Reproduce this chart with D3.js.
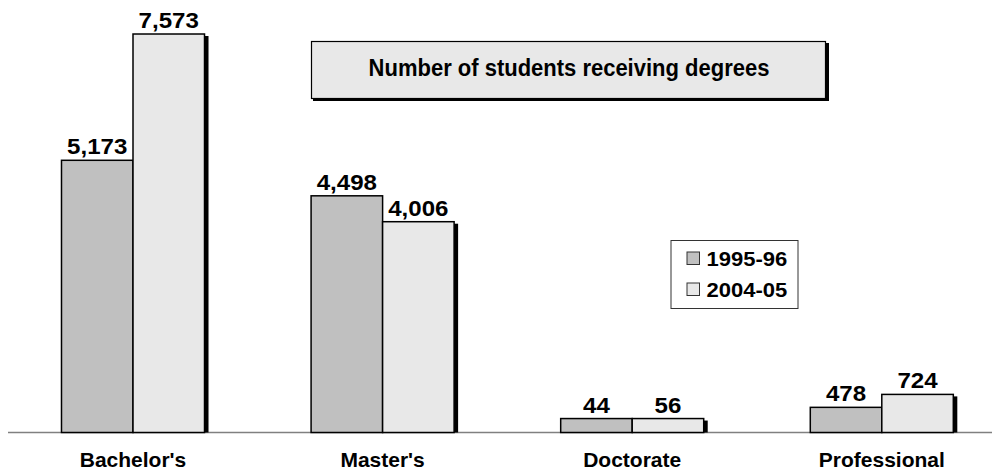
<!DOCTYPE html>
<html>
<head>
<meta charset="utf-8">
<script src="https://cdn.jsdelivr.net/npm/d3@7"></script>
<style>
  html, body { margin: 0; padding: 0; background: #fff; }
  svg { display: block; }
  text { font-family: "Liberation Sans", Arial, sans-serif; font-weight: bold; fill: #000; }
</style>
</head>
<body>
<svg id="chart" width="992" height="472"></svg>
<script>
// ---- data ----
const categories = ["Bachelor's", "Master's", "Doctorate", "Professional"];
const seriesNames = ["1995-96", "2004-05"];
const values1995 = [5173, 4498, 44, 478];
const values2004 = [7573, 4006, 56, 724];
const seriesColors = ["#c0c0c0", "#e8e8e8"];
const titleText = "Number of students receiving degrees";
// very small bars are drawn with a minimum visible height (as in the original)
const minDisplayValue = 265;

const W = 992, H = 472;
const svg = d3.select("#chart");

const baseY = 432.5;
const y = d3.scaleLinear().domain([0, 8000]).range([baseY, baseY - 8000 * 0.05262]);
const x = d3.scaleBand().domain(categories).range([8.2, 1006.6]).padding(0);
const bw = x.bandwidth();
const xs = d3.scaleBand().domain(seriesNames).range([bw * 0.2135, bw * 0.7865]).padding(0);

const rows = categories.map((c, i) => ({ cat: c, vals: [values1995[i], values2004[i]] }));

// axis line
svg.append("line")
  .attr("x1", 8).attr("x2", W)
  .attr("y1", baseY).attr("y2", baseY)
  .attr("stroke", "#808080").attr("stroke-width", 1.6);

const fmt = d3.format(",");

function scaledText(sel, sx, sy) {
  sel.each(function () {
    const t = d3.select(this);
    const tx = +t.attr("x"), ty = +t.attr("y");
    t.attr("transform", `translate(${tx},${ty}) scale(${sx},${sy || 1}) translate(${-tx},${-ty})`);
  });
}

// bars
const g = svg.append("g");
rows.forEach(r => {
  r.vals.forEach((v, si) => {
    const dv = Math.max(v, minDisplayValue);
    const x0 = x(r.cat) + xs(seriesNames[si]);
    const w = xs.bandwidth();
    const yt = y(dv);
    if (si === 1) {
      g.append("rect")
        .attr("x", x0 + w - 1).attr("y", yt + 2)
        .attr("width", 5).attr("height", baseY - yt - 2)
        .attr("fill", "#000");
    }
    g.append("rect")
      .attr("x", x0).attr("y", yt)
      .attr("width", w).attr("height", baseY - yt)
      .attr("fill", seriesColors[si])
      .attr("stroke", "#000").attr("stroke-width", 1.5);
    const t = g.append("text")
      .attr("x", x0 + w / 2).attr("y", yt - 6)
      .attr("text-anchor", "middle")
      .attr("font-size", 21.5)
      .text(fmt(v));
    scaledText(t, 1.12, 1.03);
  });
});

// category labels
const cl = svg.append("g").selectAll("text").data(categories).join("text")
  .attr("x", d => x(d) + bw / 2).attr("y", 467.5)
  .attr("text-anchor", "middle")
  .attr("font-size", 20)
  .text(d => d);
scaledText(cl, 1.05, 1.02);

// title box
const tb = svg.append("g");
tb.append("rect").attr("x", 313).attr("y", 43).attr("width", 516).attr("height", 58).attr("fill", "#000");
tb.append("rect").attr("x", 311.5).attr("y", 41.5).attr("width", 514).attr("height", 57)
  .attr("fill", "#e8e8e8").attr("stroke", "#000").attr("stroke-width", 1.2);
const tt = tb.append("text").attr("x", 569).attr("y", 76.5).attr("text-anchor", "middle")
  .attr("font-size", 22).text(titleText);
scaledText(tt, 1, 1.06);

// legend
const lg = svg.append("g");
lg.append("rect").attr("x", 671).attr("y", 240.5).attr("width", 127).attr("height", 68)
  .attr("fill", "#fff").attr("stroke", "#333").attr("stroke-width", 1);
seriesNames.forEach((s, i) => {
  const yy = 252 + i * 31;
  lg.append("rect").attr("x", 687).attr("y", yy).attr("width", 12.5).attr("height", 12.5)
    .attr("fill", seriesColors[i]).attr("stroke", "#333").attr("stroke-width", 1);
  const t = lg.append("text").attr("x", 706.5).attr("y", yy + 14.5).attr("font-size", 19.5).text(s);
  scaledText(t, 1.13);
});
</script>
</body>
</html>
